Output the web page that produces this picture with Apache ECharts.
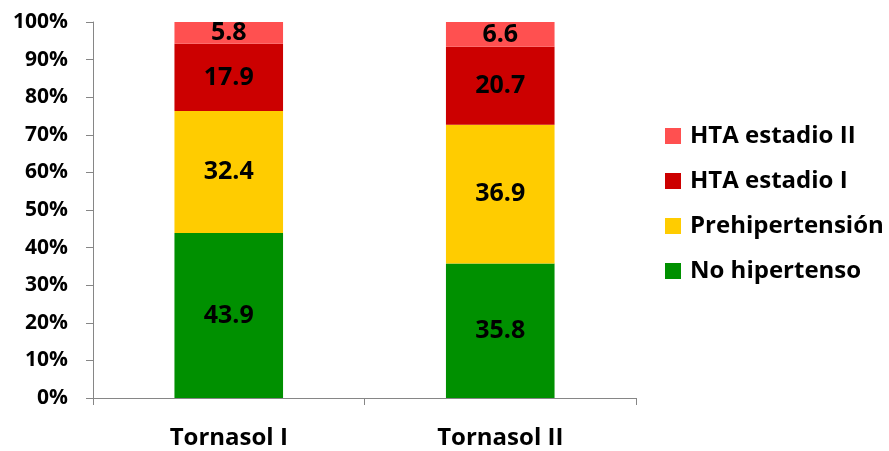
<!DOCTYPE html>
<html>
<head>
<meta charset="utf-8">
<script src="https://cdn.jsdelivr.net/npm/echarts@6/dist/echarts.min.js"></script>
<style>
  html, body { margin: 0; padding: 0; background: #ffffff; }
  #chart { width: 889px; height: 451px; }
</style>
</head>
<body>
<div id="chart"></div>
<script>
// Grupos de estudio
const categories = ['Tornasol I', 'Tornasol II'];

// Distribución de presión arterial (%) por grupo
const noHipertenso = [43.9, 35.8];
const prehipertension = [32.4, 36.9];
const htaEstadio1 = [17.9, 20.7];
const htaEstadio2 = [5.8, 6.6];

const seriesNames = ['No hipertenso', 'Prehipertensión', 'HTA estadio I', 'HTA estadio II'];
const seriesValues = [noHipertenso, prehipertension, htaEstadio1, htaEstadio2];
const seriesColors = ['#009000', '#FFCC00', '#CC0000', '#FF5050'];

const fontFamily = '"Open Sans", "Liberation Sans", sans-serif';

const chart = echarts.init(document.getElementById('chart'), null, { renderer: 'canvas' });

chart.setOption({
  animation: false,
  backgroundColor: '#ffffff',
  grid: { left: 93, right: 253, top: 22, bottom: 53, containLabel: false },
  legend: {
    orient: 'vertical',
    left: 665,
    top: 124,
    padding: 0,
    itemWidth: 16,
    itemHeight: 16,
    itemGap: 21,
    icon: 'rect',
    data: seriesNames.slice().reverse(),
    textStyle: { fontFamily, fontSize: 24, fontWeight: 'bold', color: '#000000', padding: [0, 0, 0, 4] }
  },
  xAxis: {
    type: 'category',
    data: categories,
    axisLine: { lineStyle: { color: '#868686', width: 1 } },
    axisTick: { show: true, length: 7, alignWithLabel: false, lineStyle: { color: '#868686' } },
    axisLabel: { fontFamily, fontSize: 24, fontWeight: 'bold', color: '#000000', margin: 28 }
  },
  yAxis: {
    type: 'value',
    min: 0,
    max: 100,
    interval: 10,
    splitLine: { show: false },
    axisLine: { show: true, lineStyle: { color: '#868686', width: 1 } },
    axisTick: { show: true, length: 7, lineStyle: { color: '#868686' } },
    axisLabel: { fontFamily, fontSize: 21, fontWeight: 'bold', color: '#000000', margin: 25, formatter: '{value}%' }
  },
  series: seriesNames.map((name, i) => ({
    name,
    type: 'bar',
    stack: 'total',
    barWidth: '40%',
    itemStyle: { color: seriesColors[i] },
    label: {
      show: true,
      position: 'inside',
      fontFamily,
      fontSize: 25,
      fontWeight: 'bold',
      color: '#000000',
      formatter: p => p.value.toFixed(1)
    },
    data: seriesValues[i]
  }))
});
</script>
</body>
</html>
